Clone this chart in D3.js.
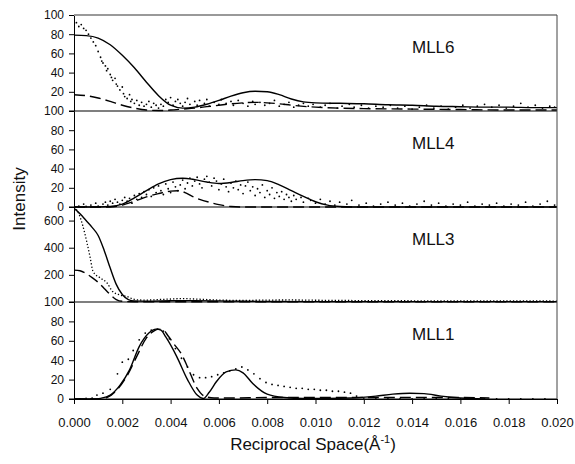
<!DOCTYPE html>
<html>
<head>
<meta charset="utf-8">
<script src="https://cdn.jsdelivr.net/npm/d3@7"></script>
<style>
  body { margin: 0; background: #fff; }
  svg { display: block; font-family: "Liberation Sans", Arial, sans-serif; }
</style>
</head>
<body>
<svg></svg>
<script>
const xTicks = [0, 0.002, 0.004, 0.006, 0.008, 0.010, 0.012, 0.014, 0.016, 0.018, 0.020];

const panelNames = ['MLL6', 'MLL4', 'MLL3', 'MLL1'];
const panelMax = [100, 100, 700, 100];
const panelTicks = [
    [20, 40, 60, 80, 100],
    [0, 20, 40, 60, 80, 100],
    [200, 400, 600],
    [0, 20, 40, 60, 80, 100]
];

// MLL6
const mll6Solid = [[0,79],[0.5,78.5],[1,76],[1.5,69],[2,58],[2.5,45],[3,30],[3.5,16],[4,6],[4.5,3],[5,4],[5.5,7],[6,11],[6.5,15.5],[7,19],[7.5,20.5],[8,20],[8.5,17],[9,12.5],[9.5,9.5],[10,8.5],[11,8],[12,7.5],[13,6.5],[14,6],[15,5],[16,4.5],[17,4],[18,4],[19,3.5],[20,3.5]];
const mll6Dash = [[0,17],[0.5,16],[1,13.5],[1.5,10],[2,6],[2.5,3],[3,1],[3.5,0.5],[4,1],[4.5,2],[5,3],[5.5,4.5],[6,6],[6.5,7.5],[7,8.5],[7.5,9],[8,8.5],[8.5,7.5],[9,6],[10,4],[11,3],[12,2.5],[14,2],[16,1.5],[18,1],[20,1]];
const mll6Dots = [[0.1,92],[0.2,88],[0.3,90],[0.4,86],[0.5,84],[0.6,80],[0.7,76],[0.8,72],[0.9,68],[1,62],[1.1,56],[1.15,52],[1.2,50],[1.3,47],[1.35,42],[1.4,44],[1.5,38],[1.55,35],[1.6,32],[1.7,34],[1.75,28],[1.8,26],[1.9,22],[2,25],[2.05,18],[2.1,15],[2.2,13],[2.3,17],[2.35,10],[2.4,12],[2.5,8],[2.6,11],[2.7,6],[2.8,9],[2.9,5],[3,7],[3.1,10],[3.2,4],[3.3,8],[3.4,6],[3.5,3],[3.6,7],[3.7,5],[3.8,12],[3.9,9],[4,14],[4.1,6],[4.2,10],[4.3,12],[4.4,8],[4.5,5],[4.6,9],[4.7,13],[4.8,7],[5,10],[5.1,6],[5.2,11],[5.4,8],[5.5,12],[5.6,5],[5.8,9],[6,7],[6.1,12],[6.3,8],[6.5,10],[6.6,6],[6.8,11],[7,8],[7.2,5],[7.4,10],[7.5,7],[7.7,9],[7.9,6],[8.1,8],[8.3,11],[8.5,5],[8.7,7],[8.9,9],[9.1,4],[9.3,6],[9.5,8],[9.7,5],[9.9,7],[10.2,4],[10.4,6],[10.6,8],[10.9,3],[11.1,5],[11.4,7],[11.6,4],[11.9,6],[12.2,3],[12.5,5],[12.8,4],[13.1,6],[13.4,3],[13.7,5],[14,2],[14.3,4],[14.6,6],[14.9,3],[15.2,5],[15.5,2],[15.8,4],[16.1,6],[16.4,3],[16.7,5],[17,7],[17.3,4],[17.6,6],[17.9,3],[18.2,5],[18.5,8],[18.8,4],[19.1,6],[19.4,3],[19.7,5],[19.9,4]];

// MLL4
const mll4Solid = [[0,0],[1,0],[1.5,0.5],[2,3],[2.5,9.5],[3,17],[3.5,24],[4,28.5],[4.5,30],[5,28.5],[5.5,26],[6,24.5],[6.5,25.5],[7,27.5],[7.5,28.5],[8,27.5],[8.5,23],[9,17],[9.5,11],[10,5.5],[10.5,2],[11,0.5],[11.5,0],[20,0]];
const mll4Dash = [[0,0],[1.5,0],[2,2],[2.5,6],[3,10.5],[3.5,14],[4,16.5],[4.3,17],[4.6,15],[4.9,11],[5.2,8],[5.6,5],[6,2.5],[6.5,0.5],[7,0],[20,0]];
const mll4Dots = [[0.2,1],[0.4,3],[0.5,0.5],[0.7,2],[0.9,4],[1,1],[1.2,3],[1.3,5],[1.4,2],[1.5,6],[1.6,4],[1.7,8],[1.8,5],[1.9,3],[2,7],[2.1,10],[2.2,6],[2.3,9],[2.4,4],[2.5,12],[2.6,8],[2.7,14],[2.8,10],[2.9,16],[3,13],[3.1,18],[3.2,11],[3.3,20],[3.4,15],[3.5,22],[3.6,17],[3.7,13],[3.8,24],[3.9,19],[4,15],[4.1,26],[4.2,21],[4.3,17],[4.4,23],[4.5,28],[4.6,19],[4.7,25],[4.8,30],[4.9,22],[5,27],[5.1,31],[5.2,24],[5.3,20],[5.4,29],[5.5,32],[5.6,26],[5.7,22],[5.8,30],[5.9,27],[6,18],[6.1,24],[6.2,29],[6.3,21],[6.4,16],[6.5,25],[6.6,20],[6.7,27],[6.8,18],[6.9,23],[7,14],[7.1,22],[7.2,26],[7.3,17],[7.4,21],[7.5,12],[7.6,19],[7.7,15],[7.8,23],[7.9,10],[8,17],[8.1,13],[8.2,20],[8.3,9],[8.4,15],[8.5,11],[8.6,16],[8.7,8],[8.8,13],[8.9,10],[9,6],[9.1,12],[9.2,8],[9.4,10],[9.5,5],[9.7,9],[9.8,7],[10,4],[10.2,8],[10.4,3],[10.6,6],[10.8,2],[11,5],[11.3,3],[11.5,7],[11.8,2],[12.1,4],[12.4,1],[12.7,3],[13,5],[13.3,2],[13.6,4],[13.9,1],[14.2,3],[14.5,6],[14.8,2],[15.1,4],[15.4,1],[15.7,3],[16,2],[16.3,5],[16.6,1],[16.9,3],[17.2,2],[17.5,4],[17.8,1],[18.1,3],[18.4,2],[18.7,5],[19,1],[19.3,3],[19.6,6],[19.9,2]];

// MLL3
const mll3Solid = [[0,690],[0.25,650],[0.5,600],[0.75,550],[1,490],[1.25,380],[1.5,250],[1.75,130],[2,55],[2.25,18],[2.5,8],[3,6],[4,9],[5,10],[6,8],[7,5],[8,4],[10,3],[20,3]];
const mll3Dash = [[0,235],[0.25,230],[0.5,210],[0.75,180],[1,145],[1.25,100],[1.5,55],[1.75,18],[2,5],[2.5,2],[20,2]];
const mll3Dots = [[0,700],[0.2,650],[0.37,558],[0.54,435],[0.66,336],[0.79,225],[1.08,178],[1.37,140],[1.6,77],[1.9,52],[2.2,40],[2.44,22],[2.7,15],[3,14],[3.5,18],[4,22],[4.5,25],[5,22],[5.5,18],[6,14],[7,12],[8,14],[9,15],[10,13],[11,12],[12,10],[14,9],[16,8],[18,8],[20,7]];

// MLL1
const mll1Solid = [[0,0],[0.8,0],[1.1,0.7],[1.5,4],[1.9,14],[2.3,30],[2.7,54],[3.1,68],[3.4,72],[3.6,71],[3.8,64],[4.25,44],[4.7,20],[5.1,4],[5.35,0.5],[5.6,7],[5.9,18],[6.3,28],[6.7,30],[7,27],[7.4,16],[8,5],[8.7,1.5],[9.5,0.5],[10.5,0.5],[11.5,1],[12.5,3],[13.2,5],[13.9,6],[14.5,5.5],[15.2,3],[16,1],[17,0]];
const mll1Dash = [[0,0],[1,0],[1.4,2],[1.8,10],[2.2,24],[2.6,44],[3,63],[3.3,70],[3.5,72],[3.7,71],[3.9,65],[4.1,58],[4.5,44],[4.7,33],[5.1,11],[5.4,3],[5.8,1],[6.5,1],[8,1.5],[10,1.5],[12,1.5],[14,1.5],[16,1.5],[17.2,1]];
const mll1Dots = [[0.25,0],[0.5,0.5],[0.75,1],[0.95,4],[1.2,6],[1.5,10],[1.8,26],[2,38],[2.25,41],[2.45,50],[2.7,61],[2.95,68],[3.2,71],[3.45,72],[3.7,70],[3.95,62],[4.2,52],[4.45,42],[4.7,33],[4.95,25],[5.2,22],[5.45,22],[5.7,23],[5.95,25],[6.2,27],[6.45,29],[6.7,31],[6.95,33],[7.2,30],[7.45,26],[7.7,21],[7.95,17],[8.2,15],[8.45,14],[8.7,13],[8.95,12],[9.2,11],[9.45,11],[9.7,10],[9.95,10],[10.2,9],[10.45,9],[10.7,8],[10.95,8],[11.2,7],[11.45,6],[11.7,3],[12,1],[12.5,0],[13,0],[13.5,0],[14,0],[14.5,0],[15,0],[15.5,0],[16,0],[16.5,0],[17,0],[17.5,0],[18,0],[18.5,0],[19,0],[19.5,0]];

const solidSeries = [mll6Solid, mll4Solid, mll3Solid, mll1Solid];
const dashSeries = [mll6Dash, mll4Dash, mll3Dash, mll1Dash];
const dotSeries = [mll6Dots, mll4Dots, mll3Dots, mll1Dots];
const dotAsLine = [false, false, true, false];

/**
 * Set up.
 */
const width = 575, height = 464;
const left = 74, right = 557;
const panelTops = [15, 111, 207, 302];
const bottom = 399;

const svg = d3.select('svg')
    .attr('width', width)
    .attr('height', height);

const x = d3.scaleLinear().domain([0, 0.020]).range([left, right]);
const px = d => x(d[0] / 1000);

/**
 * Panels.
 */
panelNames.forEach((name, i) => {
    const top = panelTops[i];
    const base = i < 3 ? panelTops[i + 1] : bottom;
    const y = d3.scaleLinear().domain([0, panelMax[i]]).range([base, top]);
    const g = svg.append('g');

    g.append('clipPath').attr('id', 'clip' + i)
        .append('rect')
        .attr('x', left).attr('y', top - 1)
        .attr('width', right - left).attr('height', base - top + 2);

    const plot = g.append('g').attr('clip-path', `url(#clip${i})`);

    const line = d3.line().x(px).y(d => y(d[1])).curve(d3.curveMonotoneX);

    if (dotAsLine[i]) {
        plot.append('path')
            .attr('d', line(dotSeries[i]))
            .attr('fill', 'none')
            .attr('stroke', '#000')
            .attr('stroke-width', 1.3)
            .attr('stroke-dasharray', '1.3,2');
    } else {
        plot.selectAll('circle')
            .data(dotSeries[i])
            .enter()
            .append('circle')
            .attr('cx', px)
            .attr('cy', d => y(d[1]))
            .attr('r', 0.9)
            .attr('fill', '#000');
    }

    plot.append('path')
        .attr('d', line(dashSeries[i]))
        .attr('fill', 'none')
        .attr('stroke', '#000')
        .attr('stroke-width', 1.4)
        .attr('stroke-dasharray', '11,5');

    plot.append('path')
        .attr('d', line(solidSeries[i]))
        .attr('fill', 'none')
        .attr('stroke', '#000')
        .attr('stroke-width', 1.4);

    // baseline of the panel
    g.append('line')
        .attr('x1', left - 5).attr('x2', right)
        .attr('y1', base).attr('y2', base)
        .attr('stroke', '#000').attr('stroke-width', 1.2);

    // left axis
    const axis = g.append('g')
        .attr('transform', `translate(${left},0)`)
        .call(d3.axisLeft(y).tickValues(panelTicks[i]).tickSize(5).tickSizeOuter(0).tickPadding(5));
    axis.select('.domain').attr('stroke', '#000');
    axis.selectAll('text').attr('font-size', 12).attr('fill', '#111').attr('font-family', null);

    g.append('text')
        .attr('x', 412)
        .attr('y', top + 38)
        .attr('font-size', 17)
        .attr('fill', '#111')
        .text(name);
});

// top border and right border
svg.append('line')
    .attr('x1', left).attr('x2', right)
    .attr('y1', panelTops[0]).attr('y2', panelTops[0])
    .attr('stroke', '#999').attr('stroke-width', 2);
svg.append('line')
    .attr('x1', right).attr('x2', right)
    .attr('y1', panelTops[0]).attr('y2', bottom)
    .attr('stroke', '#444').attr('stroke-width', 1);

/**
 * Bottom axis.
 */
const xAxis = svg.append('g')
    .attr('transform', `translate(0,${bottom})`)
    .call(d3.axisBottom(x).tickValues(xTicks).tickFormat(d3.format('.3f')).tickSize(5).tickSizeOuter(0).tickPadding(14));
xAxis.select('.domain').attr('stroke', '#000');
xAxis.selectAll('text').attr('font-size', 13).attr('fill', '#111').attr('font-family', null);

/**
 * Axis titles.
 */
const xTitle = svg.append('text')
    .attr('x', 313)
    .attr('y', 450)
    .attr('text-anchor', 'middle')
    .attr('font-size', 17)
    .attr('fill', '#111');
xTitle.append('tspan').text('Reciprocal Space(Å');
xTitle.append('tspan').attr('font-size', 11).attr('dy', -7).text('-1');
xTitle.append('tspan').attr('dy', 7).text(')');

svg.append('text')
    .attr('transform', 'translate(25,199) rotate(-90)')
    .attr('text-anchor', 'middle')
    .attr('font-size', 17)
    .attr('fill', '#111')
    .text('Intensity');
</script>
</body>
</html>
